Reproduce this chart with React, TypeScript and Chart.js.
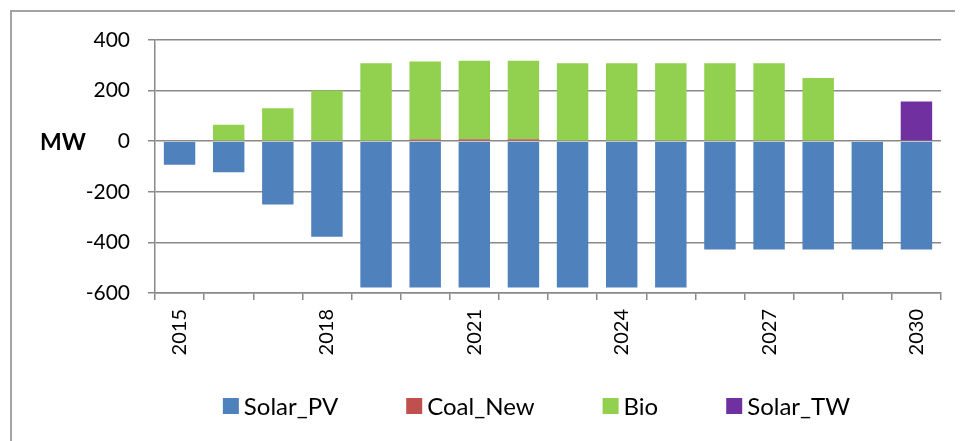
import React, { useEffect, useRef } from "react";
import { Chart, registerables } from "chart.js";

Chart.register(...registerables);

const years = ["2015","2016","2017","2018","2019","2020","2021","2022","2023","2024","2025","2026","2027","2028","2029","2030"];
const solarPV = [-93, -123, -250, -378, -578, -578, -578, -578, -578, -578, -578, -428, -428, -428, -428, -428];
const coalNew = [0, 0, 0, 0, 0, 7, 8, 8, 0, 0, 0, 0, 0, 0, 0, 0];
const bio = [0, 65, 130, 200, 308, 308, 310, 310, 308, 308, 308, 308, 308, 250, 0, 0];
const solarTW = [0, 0, 0, 0, 0, 0, 0, 0, 0, 0, 0, 0, 0, 0, 0, 157];

const yMin = -600;
const yMax = 400;
const yStep = 200;
const axisTitle = "MW";

const GRID = "#898989";
const FONT = "Lato";

export default function App() {
  const ref = useRef<HTMLCanvasElement | null>(null);

  useEffect(() => {
    if (!ref.current) return;

    const extras = {
      id: "extras",
      afterDraw(chart: any) {
        const ctx = chart.ctx;
        const y0 = chart.scales.y.getPixelForValue(0);
        ctx.save();
        ctx.fillStyle = "#000";
        ctx.font = `bold 23px ${FONT}`;
        ctx.textAlign = "left";
        ctx.textBaseline = "middle";
        ctx.fillText(axisTitle, 32, y0 + 1);

        // legend
        ctx.font = `24px ${FONT}`;
        const box = 16;
        const gapBT = 5;
        const gap = 68;
        const ds = chart.data.datasets;
        const widths = ds.map((d: any) => box + gapBT + ctx.measureText(d.label).width);
        const total = widths.reduce((a: number, b: number) => a + b, 0) + gap * (ds.length - 1);
        let x = 528.5 - total / 2;
        const cy = 398;
        ds.forEach((d: any, i: number) => {
          ctx.fillStyle = d.backgroundColor;
          ctx.fillRect(x, cy - box / 2, box, box);
          ctx.fillStyle = "#000";
          ctx.textBaseline = "middle";
          ctx.fillText(d.label, x + box + gapBT, cy + 1);
          x += widths[i] + gap;
        });
        ctx.restore();
      },
    };

    const chart = new Chart(ref.current, {
      type: "bar",
      data: {
        labels: years,
        datasets: [
          { label: "Solar_PV", data: solarPV, backgroundColor: "#4F81BD" },
          { label: "Coal_New", data: coalNew, backgroundColor: "#C0504D" },
          { label: "Bio", data: bio, backgroundColor: "#92D050" },
          { label: "Solar_TW", data: solarTW, backgroundColor: "#7030A0" },
        ],
      },
      options: {
        responsive: false,
        animation: false,
        devicePixelRatio: 1,
        layout: { padding: { top: 32, right: 22, bottom: 0, left: 0 } },
        datasets: {
          bar: { barPercentage: 0.64, categoryPercentage: 1, borderWidth: 0 },
        },
        plugins: {
          legend: { display: false },
          tooltip: { enabled: false },
        },
        scales: {
          x: {
            stacked: true,
            offset: true,
            grid: {
              offset: true,
              drawOnChartArea: false,
              drawTicks: true,
              tickLength: 7,
              color: GRID,
              lineWidth: 1.5,
            },
            border: { display: true, color: GRID, width: 1.5 },
            ticks: {
              autoSkip: false,
              minRotation: 90,
              maxRotation: 90,
              padding: 9,
              color: "#000",
              font: { family: FONT, size: 20 },
              callback: (_v: any, i: number) => (i % 3 === 0 ? years[i] : ""),
            },
            afterFit: (s: any) => {
              s.height = 148;
            },
          },
          y: {
            stacked: true,
            min: yMin,
            max: yMax,
            grid: {
              color: GRID,
              lineWidth: 1.5,
              drawTicks: true,
              tickLength: 7,
            },
            border: { display: true, color: GRID, width: 1.5 },
            ticks: {
              stepSize: yStep,
              padding: 18,
              color: "#000",
              font: { family: FONT, size: 21 },
            },
            afterFit: (s: any) => {
              s.width = 147;
            },
          },
        },
      },
      plugins: [extras],
    });

    return () => chart.destroy();
  }, []);

  return (
    <div style={{ position: "relative", width: 955, height: 433, overflow: "hidden" }}>
      <div
        style={{
          position: "absolute",
          left: 2,
          top: 2,
          width: 3000,
          height: 3000,
          borderLeft: "2px solid #a3a3a3",
          borderTop: "2px solid #a3a3a3",
        }}
      />
      <canvas
        ref={ref}
        width={955}
        height={433}
        style={{ position: "absolute", left: 0, top: 0, width: 955, height: 433 }}
      />
    </div>
  );
}
